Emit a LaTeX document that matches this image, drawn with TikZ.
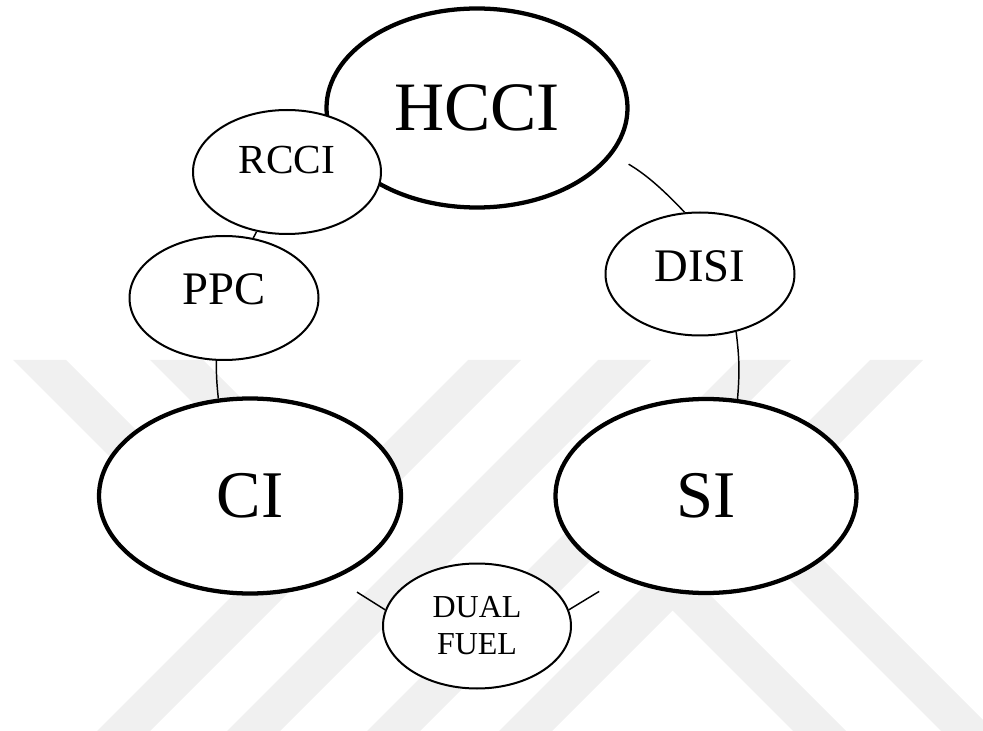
\documentclass[tikz,border=0pt]{standalone}
\usepackage{fontspec}
\setmainfont{Liberation Serif}
\usetikzlibrary{shapes.geometric}
\tikzset{
	wmark/.style={fill=black!6,draw=none},
	mainell/.style={ellipse,draw,fill=white,line width=3.2pt,inner sep=0pt,font=\fontsize{50}{60}\selectfont},
	subell/.style={ellipse,draw,fill=white,line width=1.5pt,inner sep=0pt,font=\fontsize{35}{40}\selectfont},
	lifted/.style={text height=23pt,text depth=#1},
	link/.style={line width=1.1pt}
}
\begin{document}
\begin{tikzpicture}[x=0.75pt,y=-0.75pt]
	\useasboundingbox (0,0) rectangle (983,731);
	% watermark
	\foreach \t/\a/\b in {13/360/560,150/360/540,422/551/731,570/531/731}
		\fill[wmark] (\t+\a-360,\a) -- (\t+\a-307,\a) -- (\t+\b-307,\b) -- (\t+\b-360,\b) -- cycle;
	\foreach \t in {468,598,738,870}
		\fill[wmark] (\t,360) -- (\t+53,360) -- (\t-318,731) -- (\t-371,731) -- cycle;
	\node[mainell,minimum width=225.75pt,minimum height=149.25pt,font=\fontsize{52}{60}\selectfont] (hcci) at (477,108) {HCCI};
	\node[subell,minimum width=141pt,minimum height=93pt,font=\fontsize{31}{36}\selectfont,text height=20.5pt,text depth=18pt] (rcci) at (287,172) {RCCI};
	\node[subell,lifted=13pt,minimum width=141.75pt,minimum height=93pt] (ppc) at (224,298) {PPC};
	\node[subell,lifted=11pt,minimum width=141.75pt,minimum height=92.25pt] (disi) at (700,274) {DISI};
	\node[mainell,minimum width=226.5pt,minimum height=146.25pt] (ci) at (250,496) {CI};
	\node[mainell,minimum width=225.75pt,minimum height=145.5pt] (si) at (706,496) {SI};
	\node[subell,minimum width=141pt,minimum height=93.75pt,align=center,font=\fontsize{24}{27.75}\selectfont] (dual) at (477,626) {DUAL\\FUEL};
	\draw[link,shorten <=14pt] (hcci.-19) to[bend left=8] (disi.104);
	\draw[link] (disi.-58) to[bend left=6] (si.72);
	\draw[link] (rcci.-117) -- (ppc.64);
	\draw[link] (ppc.-97) to[bend right=3] (ci.108);
	\draw[link,shorten <=19pt] (ci.-44) -- (dual.170);
	\draw[link,shorten >=19pt] (dual.10) -- (si.-136);
\end{tikzpicture}
\end{document}
